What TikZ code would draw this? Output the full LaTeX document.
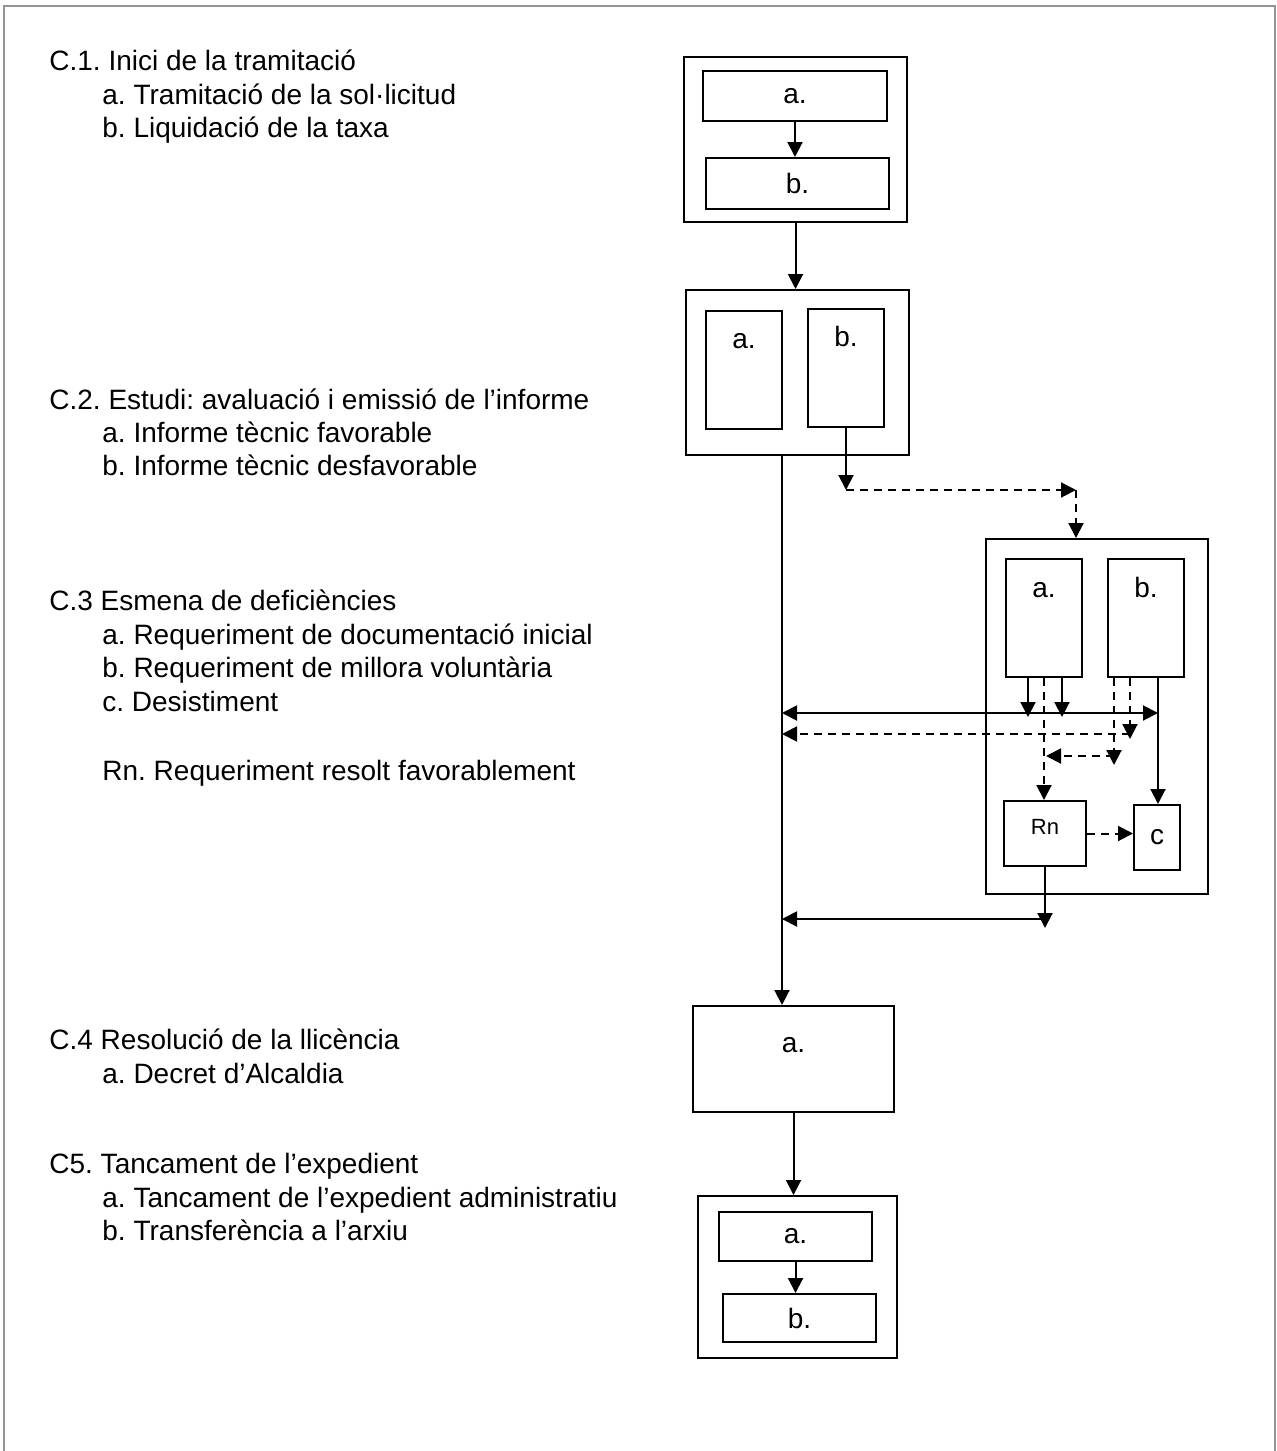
\documentclass[tikz,border=0pt]{standalone}
\usepackage{fontspec}
\setmainfont{Liberation Sans}
\usetikzlibrary{positioning}
\usetikzlibrary{arrows.meta}
\tikzset{>={Triangle[length=7.5pt,width=7.5pt]}}
\frenchspacing

\begin{document}
\begin{tikzpicture}[x=0.5pt, y=-0.5pt,
  box/.style={draw, line width=1pt, inner sep=0pt, font=\fontsize{14}{16.8}\selectfont},
  txt/.style={anchor=base west, inner sep=0pt, font=\fontsize{14}{16.8}\selectfont},
  link/.style={line width=1pt, ->},
  dlink/.style={line width=1pt, ->, dash pattern=on 4pt off 3pt}]

\useasboundingbox (0,0) rectangle (1276,1451);

% Page frame
\draw[black!42, line width=1pt] (4,1451) -- (4,6) -- (1275,6) -- (1275,1451);

% Texts on the left
\node[txt] (t1)  at (49,70)   {C.1. Inici de la tramitació};
\node[txt] (t1a) at (102,104) {a. Tramitació de la sol·licitud};
\node[txt] (t1b) at (102,137) {b. Liquidació de la taxa};

\node[txt] (t2)  at (49,409)  {C.2. Estudi: avaluació i emissió de l’informe};
\node[txt] (t2a) at (102,442) {a. Informe tècnic favorable};
\node[txt] (t2b) at (102,475) {b. Informe tècnic desfavorable};

\node[txt] (t3)  at (49,610)  {C.3 Esmena de deficiències};
\node[txt] (t3a) at (102,644) {a. Requeriment de documentació inicial};
\node[txt] (t3b) at (102,677) {b. Requeriment de millora voluntària};
\node[txt] (t3c) at (102,711) {c. Desistiment};
\node[txt] (t3r) at (102,780) {Rn. Requeriment resolt favorablement};

\node[txt] (t4)  at (49,1049) {C.4 Resolució de la llicència};
\node[txt] (t4a) at (102,1083) {a. Decret d’Alcaldia};

\node[txt] (t5)  at (49,1173) {C5. Tancament de l’expedient};
\node[txt] (t5a) at (102,1207) {a. Tancament de l’expedient administratiu};
\node[txt] (t5b) at (102,1240) {b. Transferència a l’arxiu};

% C.1 boxes
\node[box, minimum width=111.5pt, minimum height=82.5pt] (c1) at (795.5,139.5) {};
\node[box, minimum width=92pt, minimum height=25pt] (c1a) at (795,96) {a.};
\node[box, minimum width=91.5pt, minimum height=25.5pt] (c1b) at (797.5,183.5) {b.};

% C.2 boxes
\node[box, minimum width=111.5pt, minimum height=82.5pt] (c2) at (797.5,372.5) {};
\node[box, minimum width=38pt, text height=18.5pt, text depth=40.5pt] (c2a) at (744,370) {a.};
\node[box, minimum width=38pt, text height=18.5pt, text depth=40.5pt] (c2b) at (846,368) {b.};

% C.3 boxes
\node[box, minimum width=111pt, minimum height=177.5pt] (c3) at (1097,716.5) {};
\node[box, minimum width=38pt, text height=19pt, text depth=40pt] (c3a) at (1044,618) {a.};
\node[box, minimum width=38pt, text height=19pt, text depth=40pt] (c3b) at (1146,618) {b.};
\node[box, minimum width=41pt, text height=16.5pt, text depth=16pt, font=\fontsize{11}{13}\selectfont] (rn) at (1045,833.5) {Rn};
\node[box, minimum width=23pt, minimum height=32.5pt] (c3c) at (1157,837.5) {c};

% C.4 and C.5 boxes
\node[box, minimum width=100.5pt, text height=23pt, text depth=30pt] (c4) at (793.5,1059) {a.};
\node[box, minimum width=99.5pt, minimum height=81pt] (c5) at (797.5,1277) {};
\node[box, minimum width=76.5pt, minimum height=24.5pt] (c5a) at (795.5,1236.5) {a.};
\node[box, minimum width=76.5pt, minimum height=24pt] (c5b) at (799.5,1318) {b.};

% Bend and row points
\coordinate (d1) at (846,490);
\coordinate (d2) at (1076,490);
\coordinate (r1) at (782,713);
\coordinate (r2) at (782,734);
\coordinate (r3) at (1046,756);
\coordinate (r4) at (782,919);
\coordinate (aL) at ([xshift=-8pt]c3a.south);
\coordinate (aR) at ([xshift=9pt]c3a.south);
\coordinate (bL) at ([xshift=-16pt]c3b.south);
\coordinate (bM) at ([xshift=-8pt]c3b.south);
\coordinate (bR) at ([xshift=6pt]c3b.south);

% C.1 -> C.2
\draw[link] (c1a.south) -- (c1a.south |- c1b.north);
\draw[link] (c1.south) -- (c1.south |- c2.north);

% Main line down to C.4
\draw[link] (r1 |- c2.south) -- (r1 |- c4.north);

% Unfavourable report to C.3
\draw[link] (c2b.south) -- (d1);
\draw[dlink] (d1) -- (d2);
\draw[dlink] (d2) -- (d2 |- c3.north);

% Inside C.3
\draw[link, shorten >=-2pt] (aL) -- (aL |- r1);
\draw[link, shorten >=-2pt] (aR) -- (aR |- r1);
\draw[link, <->] (r1) -- (r1 -| bR);
\draw[link] (bR) -- (bR |- c3c.north);
\draw[dlink] (c3a.south) -- (c3a.south |- rn.north);
\draw[dlink, shorten >=-2.5pt] (bM) -- (bM |- r2);
\draw[dlink] (bM |- r2) -- (r2);
\draw[dlink, shorten >=-4.5pt] (bL) -- (bL |- r3);
\draw[dlink] (bL |- r3) -- (r3);
\draw[dlink] (rn.east) -- (rn.east -| c3c.west);
\draw[link, shorten >=-4.5pt] (rn.south) -- (rn.south |- r4);
\draw[link] (rn.south |- r4) -- (r4);

% C.4 -> C.5
\draw[link] (c4.south) -- (c4.south |- c5.north);
\draw[link] (c5a.south) -- (c5a.south |- c5b.north);

\end{tikzpicture}
\end{document}
